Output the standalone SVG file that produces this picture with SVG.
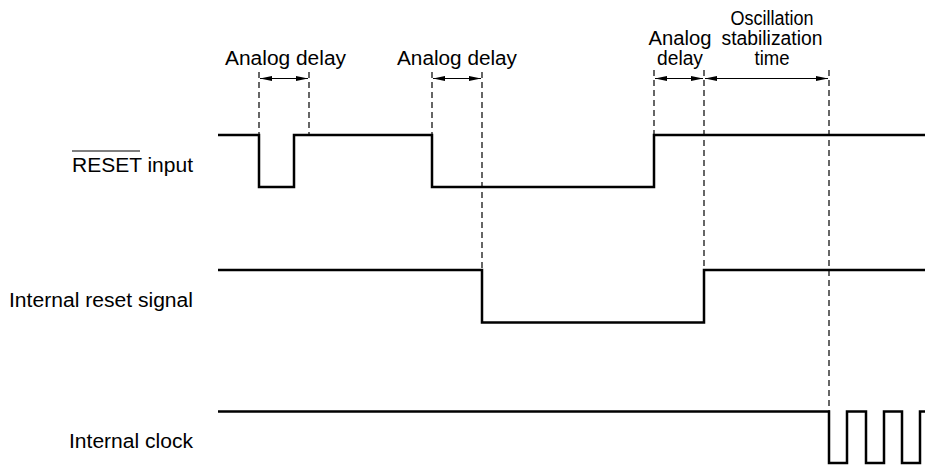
<svg xmlns="http://www.w3.org/2000/svg" width="925" height="465" viewBox="0 0 925 465">
<style>
text{font-family:"Liberation Sans",Arial,sans-serif;font-size:19.5px;fill:#000}
.sig{fill:none;stroke:#000;stroke-width:2.5;stroke-linejoin:miter;stroke-linecap:butt}
.dash{fill:none;stroke:#000;stroke-width:1.2;stroke-dasharray:6 4}
.dim{fill:none;stroke:#000;stroke-width:1;marker-start:url(#ah);marker-end:url(#ah)}
</style>
<defs>
<marker id="ah" viewBox="0 0 12 6" refX="12" refY="3" markerWidth="12" markerHeight="6" markerUnits="userSpaceOnUse" orient="auto-start-reverse">
<path d="M0,0.5 L12,3 L0,5.5 Z" fill="#000"/>
</marker>
</defs>
<rect width="925" height="465" fill="#fff"/>
<g id="label-reset">
<text x="193" y="172" text-anchor="end" textLength="121" lengthAdjust="spacingAndGlyphs">RESET input</text>
<line x1="72" y1="151" x2="140" y2="151" stroke="#000" stroke-width="1.2"/>
</g>
<g id="label-internal-reset">
<text x="193" y="306.5" text-anchor="end" textLength="184" lengthAdjust="spacingAndGlyphs">Internal reset signal</text>
</g>
<g id="label-clock">
<text x="193" y="448" text-anchor="end" textLength="124" lengthAdjust="spacingAndGlyphs">Internal clock</text>
</g>
<g id="signal-reset">
<path class="sig" d="M218,135 H259 V187 H294 V135 H432 V187 H654 V135 H925"/>
</g>
<g id="signal-internal-reset">
<path class="sig" d="M218,270 H482 V322.5 H704 V270 H925"/>
</g>
<g id="signal-clock">
<path class="sig" d="M218,411.5 H829 V463 H847 V411.5 H866 V463 H884 V411.5 H902 V463 H920 V411.5 H925"/>
</g>
<g id="connectors">
<line class="dash" x1="259" y1="72" x2="259" y2="134"/>
<line class="dash" x1="309" y1="72" x2="309" y2="134"/>
<line class="dash" x1="432" y1="72" x2="432" y2="134"/>
<line class="dash" x1="482" y1="72" x2="482" y2="269"/>
<line class="dash" x1="654" y1="70" x2="654" y2="134"/>
<line class="dash" x1="704" y1="70" x2="704" y2="269"/>
<line class="dash" x1="829" y1="70" x2="829" y2="411"/>
<line class="dim" x1="260" y1="78.5" x2="308" y2="78.5"/>
<line class="dim" x1="433" y1="78.5" x2="481" y2="78.5"/>
<line class="dim" x1="655" y1="78.5" x2="703" y2="78.5"/>
<line class="dim" x1="705" y1="78.5" x2="828" y2="78.5"/>
</g>
<g id="label-delay1">
<text x="285.5" y="65" text-anchor="middle" textLength="121" lengthAdjust="spacingAndGlyphs">Analog delay</text>
</g>
<g id="label-delay2">
<text x="457" y="65" text-anchor="middle" textLength="120" lengthAdjust="spacingAndGlyphs">Analog delay</text>
</g>
<g id="label-delay3">
<text x="680" y="45" text-anchor="middle" textLength="63" lengthAdjust="spacingAndGlyphs">Analog</text>
<text x="680" y="65" text-anchor="middle" textLength="46" lengthAdjust="spacingAndGlyphs">delay</text>
</g>
<g id="label-osc">
<text x="772" y="25" text-anchor="middle" textLength="83" lengthAdjust="spacingAndGlyphs">Oscillation</text>
<text x="772" y="45" text-anchor="middle" textLength="101" lengthAdjust="spacingAndGlyphs">stabilization</text>
<text x="772" y="65" text-anchor="middle" textLength="35" lengthAdjust="spacingAndGlyphs">time</text>
</g>
</svg>
